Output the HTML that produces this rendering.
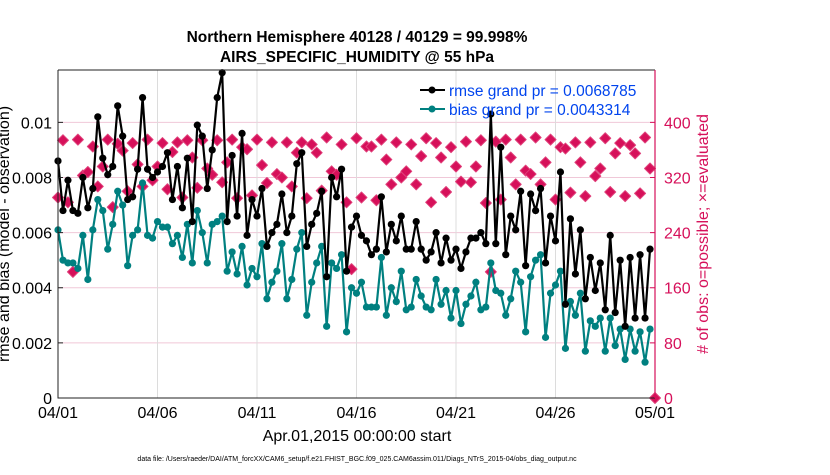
<!DOCTYPE html>
<html><head><meta charset="utf-8"><style>
body{margin:0;background:#fff;font-family:"Liberation Sans",sans-serif}
svg text{font-family:"Liberation Sans",sans-serif}
</style></head><body>
<svg id="c" width="830" height="470" viewBox="0 0 830 470">
<text x="357" y="42" text-anchor="middle" font-size="15.5" font-weight="bold">Northern Hemisphere 40128 / 40129 = 99.998%</text>
<text x="357" y="62" text-anchor="middle" font-size="15.5" font-weight="bold">AIRS_SPECIFIC_HUMIDITY @ 55 hPa</text>
<g id="grid"></g><g id="series"></g><g id="axes"></g>
<text transform="translate(9,234) rotate(-90)" text-anchor="middle" font-size="16">rmse and bias (model - observation)</text>
<text transform="translate(708,234) rotate(-90)" text-anchor="middle" font-size="16" fill="#d6105a"># of obs: o=possible; ×=evaluated</text>
<text x="357" y="441" text-anchor="middle" font-size="16">Apr.01,2015 00:00:00 start</text>
<text x="357" y="461" text-anchor="middle" font-size="7">data file: /Users/raeder/DAI/ATM_forcXX/CAM6_setup/f.e21.FHIST_BGC.f09_025.CAM6assim.011/Diags_NTrS_2015-04/obs_diag_output.nc</text>
<g>
<line x1="420" y1="90" x2="445" y2="90" stroke="#000" stroke-width="2"/>
<circle cx="432" cy="90" r="3.5" fill="#000"/>
<text x="449" y="96" font-size="15.5" fill="#0044ee">rmse grand pr = 0.0068785</text>
<line x1="420" y1="109" x2="445" y2="109" stroke="#008080" stroke-width="2"/>
<circle cx="432" cy="109" r="3.5" fill="#008080"/>
<text x="449" y="115" font-size="15.5" fill="#0044ee">bias grand pr = 0.0043314</text>
</g>
</svg>
<script>
const rmse=[8.6,6.8,7.9,6.8,6.7,8.0,6.9,7.6,10.2,8.7,8.1,8.4,10.6,9.5,7.2,7.3,8.3,10.9,8.3,8.0,8.2,8.4,8.9,7.2,8.4,6.9,8.7,6.4,9.9,9.5,7.6,9.0,
10.9,11.8,6.4,8.8,6.6,9.6,5.9,7.2,6.6,7.6,5.5,6.0,6.3,7.4,6.0,6.6,8.5,8.9,5.5,6.3,6.7,7.5,4.4,8.0,7.3,8.3,4.6,6.2,6.6,5.9,
5.7,5.2,5.4,7.3,5.3,6.3,5.7,6.6,5.4,5.4,6.4,5.4,5.0,5.3,6.0,4.9,5.8,5.0,5.4,4.7,5.3,5.8,5.8,6.0,5.6,10.3,5.6,9.1,5.2,6.6,
6.1,7.5,4.8,7.4,6.8,7.6,4.9,6.6,5.7,8.2,3.4,6.5,4.5,6.1,3.6,5.1,3.9,4.9,3.2,5.9,3.1,5.0,2.6,5.1,2.9,5.2,2.9,5.4];
const bias=[6.1,5.0,4.9,4.9,4.7,5.9,4.3,6.1,7.2,6.8,5.4,6.3,7.5,7.0,4.8,5.9,6.1,7.8,5.9,5.8,6.4,6.2,6.2,5.6,5.9,5.1,6.3,4.9,6.8,6.0,4.9,6.3,
6.4,6.6,4.6,5.3,4.5,5.5,4.1,4.7,4.4,5.6,3.6,4.2,4.6,5.6,3.6,4.3,5.4,6.0,3.0,4.2,4.9,5.5,2.6,4.9,4.7,5.2,2.4,4.0,3.8,4.2,
3.3,3.3,3.3,5.1,3.0,4.0,3.5,4.6,3.2,3.3,4.3,3.7,3.3,3.2,4.3,3.4,3.9,2.9,3.9,2.7,3.4,3.7,4.2,3.2,3.3,4.9,3.9,3.8,3.0,3.6,
4.6,4.2,2.4,4.4,5.0,5.2,2.2,3.8,4.1,4.6,1.8,3.5,3.0,3.8,1.7,2.8,2.6,2.9,1.7,2.9,1.9,2.5,1.4,2.5,1.7,2.4,1.3,2.5];
const obsCount=[291,374,284,183,375,323,328,365,307,336,375,277,369,359,300,370,339,307,375,316,336,370,303,357,371,291,374,349,305,374,333,324,
374,313,342,375,290,364,361,294,375,338,312,371,325,320,371,307,356,371,290,368,356,301,378,329,324,368,284,187,377,291,
365,365,287,375,346,310,371,320,329,368,310,351,377,284,370,349,299,364,336,314,372,313,336,374,283,183,372,288,375,349,
310,375,330,325,378,310,342,375,288,364,362,298,371,342,293,371,322,333,377,299,355,370,293,367,355,297,378,333,0];
const xTickLabels=["04/01","04/06","04/11","04/16","04/21","04/26","05/01"];
const xTickDays=[0,5,10,15,20,25,30];
const leftTicks=[0,0.002,0.004,0.006,0.008,0.01];
const leftTickLabels=["0","0.002","0.004","0.006","0.008","0.01"];
const rightTicks=[0,80,160,240,320,400];

const NS="http://www.w3.org/2000/svg";
const X0=58,X1=655,Y0=398,Y1=70;
const xS=d=>X0+(X1-X0)*d/30;
const yL=v=>Y0-(Y0-Y1)*v/0.0119;
const yR=v=>Y0-(Y0-Y1)*v/476;
function mk(t,a,p){const e=document.createElementNS(NS,t);for(const k in a)e.setAttribute(k,a[k]);p.appendChild(e);return e;}
const G=document.getElementById('grid'),S=document.getElementById('series'),A=document.getElementById('axes');
mk('rect',{x:X0,y:Y1,width:X1-X0,height:Y0-Y1,fill:'#fff'},G);
leftTicks.forEach((v,i)=>{const y=yL(v);
 const l=mk('line',{x1:X0,x2:X1,y1:y,y2:y,stroke:'#f0c8d8','stroke-width':1},G);
 
 
 const t=mk('text',{x:X0-6,y:y+6,'text-anchor':'end','font-size':16},A);t.textContent=leftTickLabels[i];
 
 
 mk('line',{x1:X0,x2:X0+5,y1:y,y2:y,stroke:'#222'},A);
});
xTickDays.forEach((d,i)=>{const x=xS(d);
 const l=mk('line',{x1:x,x2:x,y1:Y1,y2:Y0,stroke:'#dcdcdc','stroke-width':1},G);
 
 
 const t=mk('text',{x:x,y:Y0+20,'text-anchor':'middle','font-size':16},A);t.textContent=xTickLabels[i];
 
 
});
rightTicks.forEach(v=>{const y=yR(v);
 const t=mk('text',{x:X1+9,y:y+6,'font-size':16,fill:'#d6105a'},A);t.textContent=v;
 
 
 mk('line',{x1:X1-5,x2:X1,y1:y,y2:y,stroke:'#d6105a'},A);
});
mk('path',{d:`M${X0},${Y1}V${Y0}H${X1}`,fill:'none',stroke:'#222','stroke-width':1},A);
mk('line',{x1:X0,x2:X1,y1:Y1,y2:Y1,stroke:'#222'},A);
mk('line',{x1:X1,x2:X1,y1:Y1,y2:Y0,stroke:'#d6105a','stroke-width':1.2},A);
const xi=i=>xS(i*0.25);
obsCount.forEach((v,i)=>{const x=xi(i),y=yR(v);
 const p=mk('path',{d:`M${x},${y-5.5}L${x+5.5},${y}L${x},${y+5.5}L${x-5.5},${y}Z`,fill:'#d6105a','stroke':'#e0407a','stroke-width':1,'stroke-linejoin':'round'},S);
 
 
});
function line(arr,col,name){
 const pts=arr.map((v,i)=>[xi(i),yL(v/1000)]);
 const pl=mk('polyline',{points:pts.map(p=>p.join(',')).join(' '),fill:'none',stroke:col,'stroke-width':2.2},S);
 
 
 pts.forEach(p=>{const c=mk('circle',{cx:p[0],cy:p[1],r:3.6,fill:col},S);
  
  });
}
line(bias,'#008080','bias');
line(rmse,'#000','rmse');
</script>
</body></html>
